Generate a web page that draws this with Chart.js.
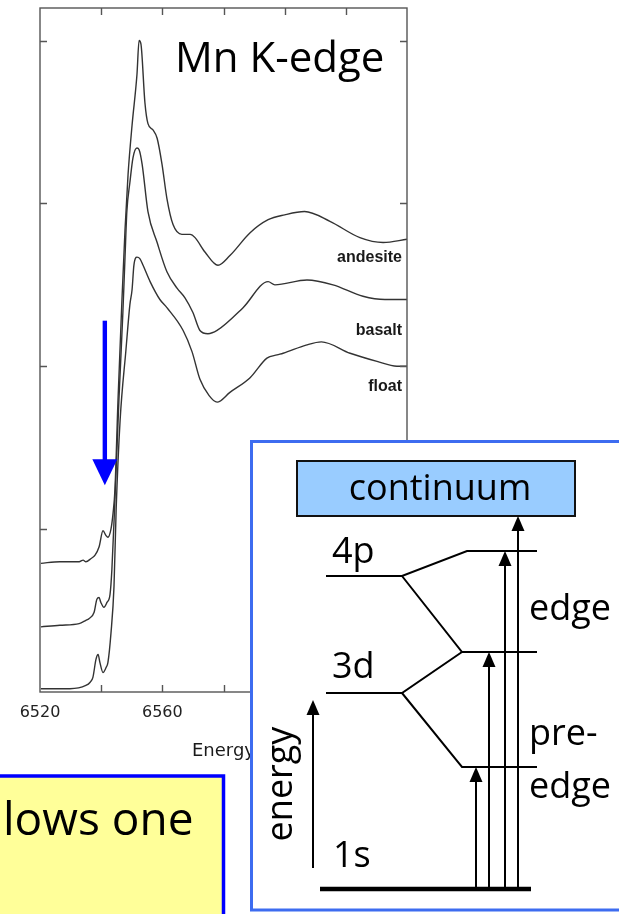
<!DOCTYPE html>
<html>
<head>
<meta charset="utf-8">
<script src="https://cdn.jsdelivr.net/npm/chart.js@4.4.1/dist/chart.umd.min.js"></script>
<style>
  body { margin: 0; width: 619px; height: 914px; position: relative; overflow: hidden; background: #fff; }
  #wrap { position: absolute; left: 0; top: 0; width: 619px; height: 914px; }
  #overlay { position: absolute; left: 0; top: 0; pointer-events: none; font-family: "Open Sans", sans-serif; }
</style>
</head>
<body>
<div id="wrap"><canvas id="chartXanes"></canvas></div>

<svg id="overlay" width="619" height="914">
  <text x="175" y="72" font-size="42" fill="#000">Mn K-edge</text>

  <!-- yellow note, cut at page edge -->
  <rect x="-10" y="776" width="233.5" height="160" fill="#ffff99" stroke="#0000ff" stroke-width="3.5"/>
  <text x="3" y="835" font-size="46" fill="#000">lows one</text>

  <!-- energy level scheme -->
  <rect x="251.5" y="441.5" width="400" height="468.5" fill="#fff" stroke="#3d6cf0" stroke-width="3"/>
  <rect x="297" y="461" width="278" height="55" fill="#99ccff" stroke="#111" stroke-width="2"/>
  <text x="440" y="500" font-size="36" text-anchor="middle" fill="#000">continuum</text>

  <g stroke="#000" stroke-width="2" fill="none">
    <path d="M326 576 H402 L467 551 H537"/>
    <path d="M402 576 L462 652 H537"/>
    <path d="M326 693 H402 L462 652"/>
    <path d="M402 693 L462 767 H537"/>
    <path d="M476 887 V780 M489 887 V665 M505 887 V564 M518 887 V529"/>
    <path d="M313 868 V712"/>
  </g>
  <path d="M320 889 H531" stroke="#000" stroke-width="4.5"/>
  <g fill="#000">
    <path d="M476 767 L469.5 782 L482.5 782 Z"/>
    <path d="M489 652 L482.5 667 L495.5 667 Z"/>
    <path d="M505 551 L498.5 566 L511.5 566 Z"/>
    <path d="M518 516 L511.5 531 L524.5 531 Z"/>
    <path d="M313 700 L306.5 715 L319.5 715 Z"/>
  </g>

  <g font-size="36" fill="#000">
    <text x="332" y="563">4p</text>
    <text x="332" y="678">3d</text>
    <text x="333" y="867">1s</text>
    <text x="529" y="620">edge</text>
    <text x="529" y="745">pre-</text>
    <text x="529" y="798">edge</text>
    <text transform="translate(292,784) rotate(-90)" text-anchor="middle">energy</text>
  </g>
</svg>

<script>
// ====== Mn K-edge XANES spectra ======
const andesiteE = [6520.3, 6526.5, 6532.8, 6534.1, 6535.0, 6536.7, 6538.0, 6539.3, 6540.6, 6541.6,
  6542.2, 6543.2, 6543.9, 6544.5, 6545.5, 6546.8, 6547.8, 6548.8, 6550.1, 6551.7,
  6552.4, 6553.0, 6554.3, 6555.3, 6557.0, 6558.3, 6559.9, 6561.5, 6563.5, 6566.4,
  6569.1, 6570.7, 6574.0, 6578.2, 6582.1, 6588.7, 6594.6, 6600.0, 6606.5, 6614.8,
  6624.6, 6632.2, 6640.0];
const andesiteMu = [0.79, 0.80, 0.80, 0.81, 0.80, 0.82, 0.84, 0.89, 0.99, 0.96,
  0.95, 1.00, 1.10, 1.24, 1.79, 2.41, 2.84, 3.18, 3.48, 3.79,
  4.00, 3.98, 3.62, 3.49, 3.45, 3.40, 3.24, 3.03, 2.87, 2.81,
  2.81, 2.79, 2.70, 2.62, 2.68, 2.82, 2.90, 2.93, 2.95, 2.89,
  2.79, 2.76, 2.78];

const basaltE = [6520.3, 6526.5, 6532.8, 6535.0, 6536.0, 6537.7, 6538.6, 6539.3, 6539.9, 6540.9,
  6541.9, 6542.9, 6543.5, 6544.5, 6545.8, 6547.1, 6547.8, 6548.4, 6549.4, 6550.4,
  6551.7, 6552.4, 6553.4, 6555.3, 6558.3, 6561.5, 6564.8, 6567.4, 6570.0, 6572.3,
  6574.9, 6577.9, 6586.4, 6594.6, 6596.8, 6607.3, 6615.8, 6625.6, 6632.8, 6640.0];
const basaltMu = [0.40, 0.41, 0.42, 0.44, 0.45, 0.49, 0.57, 0.58, 0.55, 0.52,
  0.55, 0.60, 0.75, 1.18, 1.79, 2.33, 2.67, 2.95, 3.13, 3.28,
  3.34, 3.33, 3.24, 2.95, 2.76, 2.58, 2.48, 2.42, 2.33, 2.22,
  2.20, 2.22, 2.36, 2.52, 2.50, 2.53, 2.50, 2.43, 2.41, 2.41];

const floatE = [6520.3, 6529.8, 6535.0, 6536.4, 6537.3, 6538.3, 6539.0, 6539.6, 6540.6, 6541.6,
  6542.2, 6543.2, 6544.2, 6544.9, 6546.2, 6548.1, 6549.4, 6550.1, 6550.7, 6551.7,
  6552.7, 6553.7, 6556.0, 6559.2, 6561.5, 6566.8, 6569.7, 6572.3, 6575.3, 6577.9,
  6582.1, 6588.7, 6594.2, 6597.5, 6599.5, 6607.0, 6612.0, 6621.4, 6630.2, 6636.7,
  6640.0];
const floatMu = [0.02, 0.02, 0.04, 0.06, 0.09, 0.20, 0.23, 0.18, 0.12, 0.15,
  0.18, 0.36, 0.65, 1.12, 1.67, 2.10, 2.38, 2.47, 2.62, 2.67,
  2.66, 2.62, 2.52, 2.41, 2.36, 2.22, 2.09, 1.92, 1.82, 1.78,
  1.84, 1.93, 2.05, 2.07, 2.08, 2.13, 2.15, 2.08, 2.03, 2.00,
  2.00];

const sampleNames = ["andesite", "basalt", "float"];
const energyTicks = [6520, 6560, 6600, 6640];   // labelled ticks; marks every 20 eV

const toPoints = (xs, ys) => xs.map((e, i) => ({ x: e, y: ys[i] }));

// frame round the plot with inward tick marks on all four sides
const frameTicks = {
    id: "frameTicks",
    afterDraw(chart) {
        const { ctx, chartArea: a, scales: { x, y } } = chart;
        ctx.save();
        ctx.strokeStyle = "#555";
        ctx.lineWidth = 1.4;
        ctx.strokeRect(a.left, a.top, a.right - a.left, a.bottom - a.top);
        ctx.beginPath();
        x.ticks.forEach((t) => {
            if (t.value <= x.min || t.value >= x.max) return;
            const px = Math.round(x.getPixelForValue(t.value)) + 0.5;
            ctx.moveTo(px, a.bottom); ctx.lineTo(px, a.bottom - 7);
            ctx.moveTo(px, a.top); ctx.lineTo(px, a.top + 7);
        });
        y.ticks.forEach((t) => {
            if (t.value <= y.min || t.value >= y.max || !Number.isInteger(t.value)) return;
            const py = Math.round(y.getPixelForValue(t.value)) + 0.5;
            ctx.moveTo(a.left, py); ctx.lineTo(a.left + 7, py);
            ctx.moveTo(a.right, py); ctx.lineTo(a.right - 7, py);
        });
        ctx.stroke();
        ctx.restore();
    }
};

// sample names under the right end of each curve
const curveNames = {
    id: "curveNames",
    afterDatasetsDraw(chart) {
        const { ctx, chartArea: a, scales: { y } } = chart;
        ctx.save();
        ctx.font = "bold 16px 'Liberation Sans', Arial, sans-serif";
        ctx.fillStyle = "#1a1a1a";
        ctx.textAlign = "right";
        ctx.textBaseline = "middle";
        chart.data.datasets.forEach((ds) => {
            const last = ds.data[ds.data.length - 1];
            ctx.fillText(ds.label, a.right - 5, y.getPixelForValue(last.y) + ds.nameOffset);
        });
        ctx.restore();
    }
};

// blue arrow pointing down at the pre-edge peaks
const preEdgeArrow = {
    id: "preEdgeArrow",
    afterDraw(chart, args, opts) {
        const { ctx, scales: { x, y } } = chart;
        const px = x.getPixelForValue(opts.energy);
        const y0 = y.getPixelForValue(opts.from);
        const tip = y.getPixelForValue(opts.to);
        ctx.save();
        ctx.fillStyle = opts.color;
        ctx.fillRect(px - 2.2, y0, 4.4, tip - y0 - 24);
        ctx.beginPath();
        ctx.moveTo(px, tip);
        ctx.lineTo(px - 12.5, tip - 26);
        ctx.lineTo(px + 12.5, tip - 26);
        ctx.closePath();
        ctx.fill();
        ctx.restore();
    }
};

window.addEventListener("DOMContentLoaded", () => {
    Chart.defaults.font.family = "'DejaVu Sans', Verdana, sans-serif";
    const series = [toPoints(andesiteE, andesiteMu), toPoints(basaltE, basaltMu), toPoints(floatE, floatMu)];
    const offsets = [18, 31, 20];

    new Chart(document.getElementById("chartXanes"), {
        type: "line",
        data: {
            datasets: series.map((pts, i) => ({
                label: sampleNames[i],
                data: pts,
                borderColor: "#333",
                borderWidth: 1.4,
                pointRadius: 0,
                fill: false,
                cubicInterpolationMode: "monotone",
                nameOffset: offsets[i]
            }))
        },
        options: {
            responsive: true,
            maintainAspectRatio: false,
            animation: false,
            layout: { padding: { left: 40, top: 8, right: 212, bottom: 142 } },
            plugins: {
                legend: { display: false },
                tooltip: { enabled: false },
                preEdgeArrow: { energy: 6541.2, from: 2.28, to: 1.27, color: "#0000ff" }
            },
            scales: {
                x: {
                    type: "linear",
                    min: 6520,
                    max: 6640,
                    grid: { display: false, drawTicks: false },
                    border: { display: false },
                    ticks: {
                        stepSize: 20,
                        padding: 11,
                        color: "#222",
                        font: { size: 16 },
                        maxRotation: 0,
                        autoSkip: false,
                        callback: (val) => energyTicks.includes(val) ? String(val) : ""
                    },
                    title: {
                        display: true,
                        text: "Energy",
                        color: "#1a1a1a",
                        font: { size: 18 },
                        padding: { top: 0, bottom: 10 }
                    },
                    afterFit: (scale) => { scale.height = 80; }
                },
                y: {
                    min: 0,
                    max: 4.2,
                    grid: { display: false, drawTicks: false },
                    border: { display: false },
                    ticks: { display: false, stepSize: 1 },
                    afterFit: (scale) => { scale.width = 0; }
                }
            }
        },
        plugins: [frameTicks, curveNames, preEdgeArrow]
    });
});
</script>
</body>
</html>
